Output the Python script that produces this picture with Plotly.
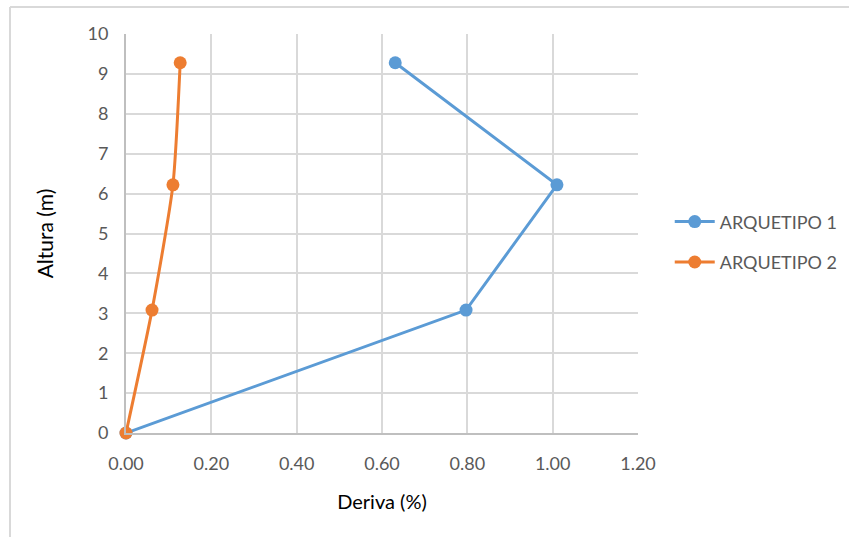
import plotly.graph_objects as go

deriva_a1 = [0.00, 0.797, 1.010, 0.631]
altura_a1 = [0.0, 3.08, 6.22, 9.28]
deriva_a2 = [0.00, 0.061, 0.110, 0.127]
altura_a2 = [0.0, 3.08, 6.22, 9.28]
names = ["ARQUETIPO 1", "ARQUETIPO 2"]
x_ticks = [0, 0.2, 0.4, 0.6, 0.8, 1.0, 1.2]
y_ticks = list(range(0, 11))

FONT = "Lato, 'Open Sans', sans-serif"
GRID = "#D9D9D9"

fig = go.Figure()
fig.add_trace(go.Scatter(x=deriva_a1, y=altura_a1, name=names[0], mode="lines+markers",
                         legendgroup="a1",
                         line=dict(color="#5B9BD5", width=3), cliponaxis=False,
                         marker=dict(size=13, color="#5B9BD5")))
fig.add_trace(go.Scatter(x=deriva_a2, y=altura_a2, name=names[1], mode="lines+markers",
                         legendgroup="a2",
                         line=dict(color="#ED7D31", width=3, shape="spline", smoothing=0.6),
                         cliponaxis=False,
                         marker=dict(size=13, color="#ED7D31")))

fig.update_layout(
    width=849, height=537,
    margin=dict(l=126, r=211, t=34, b=104, autoexpand=False),
    paper_bgcolor="white", plot_bgcolor="white",
    font=dict(family=FONT, color="#595959", size=18),
    showlegend=True,
    legend=dict(x=1.062, y=0.479, xanchor="left", yanchor="middle",
                font=dict(size=18, color="#595959"), tracegroupgap=14,
                traceorder="grouped", itemwidth=40),
    xaxis=dict(range=[0, 1.2], tickvals=x_ticks, tickformat=".2f",
               showgrid=True, gridcolor=GRID, gridwidth=2,
               showline=True, linecolor="#BFBFBF", linewidth=2, mirror=False,
               zeroline=False, ticks="", ticklabelstandoff=13, automargin=False,
               title=dict(text="Deriva (%)", font=dict(size=20, color="#000000"), standoff=22)),
    yaxis=dict(range=[0, 10], tickvals=y_ticks,
               showgrid=True, gridcolor=GRID, gridwidth=2,
               showline=True, linecolor="#BFBFBF", linewidth=2,
               zeroline=False, ticks="", ticklabelstandoff=12, automargin=False,
               title=dict(text="Altura (m)", font=dict(size=21, color="#000000"), standoff=28)),
    shapes=[
        dict(type="line", xref="paper", yref="paper", x0=-0.2266, x1=-0.2266, y0=1.0677, y1=-0.3,
             line=dict(color=GRID, width=2)),
        dict(type="line", xref="paper", yref="paper", x0=-0.2266, x1=1.5, y0=1.0677, y1=1.0677,
             line=dict(color=GRID, width=2)),
    ],
)

fig.write_html("out.html", config={"displayModeBar": False},
               post_script="document.body.style.margin='0';")
